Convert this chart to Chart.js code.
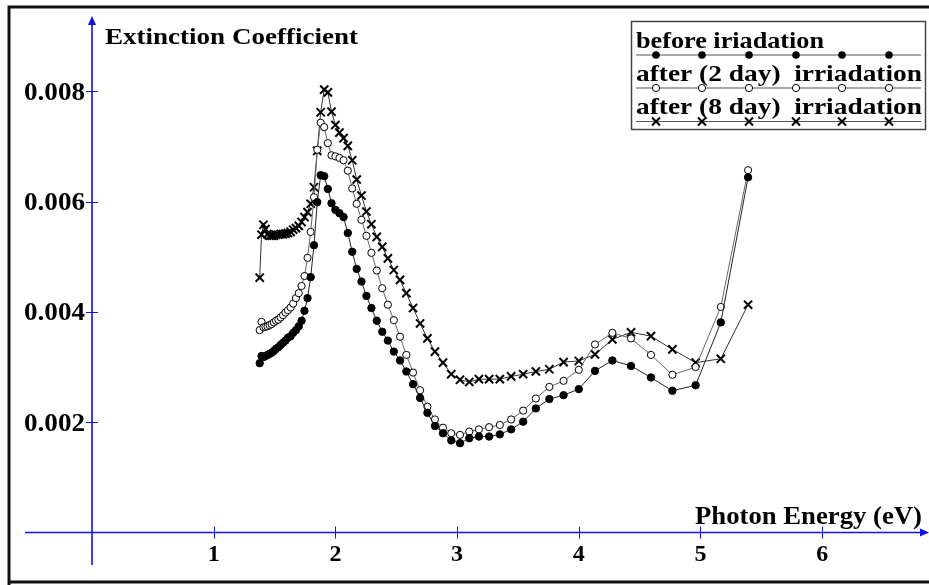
<!DOCTYPE html>
<html>
<head>
<meta charset="utf-8">
<script src="https://cdn.jsdelivr.net/npm/chart.js@4.4.1/dist/chart.umd.min.js"></script>
<style>
  html, body { margin: 0; padding: 0; background: #ffffff; }
  canvas { display: block; }
</style>
</head>
<body>
<canvas id="chart" width="929" height="585"></canvas>
<script>
// Photon energy (eV) of each measured point
const photonEnergy = [
  1.378, 1.393, 1.409, 1.425, 1.442, 1.459, 1.476, 1.494, 1.512, 1.531,
  1.550, 1.570, 1.590, 1.610, 1.632, 1.653, 1.676, 1.699, 1.722, 1.746,
  1.771, 1.797, 1.824, 1.851, 1.879, 1.908, 1.938, 1.968, 2.000, 2.033,
  2.067, 2.102, 2.138, 2.175, 2.214, 2.255, 2.296, 2.340, 2.385, 2.431,
  2.480, 2.531, 2.583, 2.638, 2.696, 2.756, 2.818, 2.884, 2.952, 3.024,
  3.100, 3.179, 3.263, 3.351, 3.444, 3.543, 3.647, 3.758, 3.875, 4.000,
  4.133, 4.276, 4.429, 4.593, 4.769, 4.960, 5.167, 5.391
];

// Extinction coefficient before irradiation
const beforeIrradiation = [
  0.00307, 0.00320, 0.00318, 0.00320, 0.00322, 0.00324, 0.00326, 0.00329, 0.00333, 0.00336,
  0.00340, 0.00344, 0.00348, 0.00353, 0.00356, 0.00362, 0.00367, 0.00374, 0.00384, 0.00402,
  0.00425, 0.00463, 0.00521, 0.00599, 0.00648, 0.00646, 0.00623, 0.00597, 0.00585, 0.00579,
  0.00572, 0.00543, 0.00509, 0.00478, 0.00455, 0.00429, 0.00407, 0.00384, 0.00364, 0.00348,
  0.00328, 0.00312, 0.00292, 0.00269, 0.00244, 0.00217, 0.00193, 0.00180, 0.00167, 0.00162,
  0.00171, 0.00174, 0.00174, 0.00178, 0.00187, 0.00201, 0.00225, 0.00242, 0.00249, 0.00260,
  0.00293, 0.00312, 0.00302, 0.00281, 0.00257, 0.00267, 0.00381, 0.00644
];

// Extinction coefficient after 2 days of irradiation
const after2Days = [
  0.00367, 0.00382, 0.00372, 0.00373, 0.00374, 0.00376, 0.00378, 0.00381, 0.00384, 0.00386,
  0.00390, 0.00394, 0.00399, 0.00403, 0.00408, 0.00415, 0.00425, 0.00434, 0.00447, 0.00465,
  0.00498, 0.00545, 0.00608, 0.00694, 0.00743, 0.00735, 0.00706, 0.00684, 0.00682, 0.00679,
  0.00675, 0.00656, 0.00624, 0.00596, 0.00567, 0.00538, 0.00507, 0.00475, 0.00443, 0.00413,
  0.00385, 0.00355, 0.00322, 0.00290, 0.00258, 0.00228, 0.00205, 0.00190, 0.00180, 0.00177,
  0.00183, 0.00187, 0.00191, 0.00195, 0.00205, 0.00221, 0.00243, 0.00264, 0.00275, 0.00295,
  0.00341, 0.00362, 0.00352, 0.00322, 0.00286, 0.00300, 0.00409, 0.00657
];

// Extinction coefficient after 8 days of irradiation
const after8Days = [
  0.00462, 0.00540, 0.00558, 0.00550, 0.00541, 0.00538, 0.00538, 0.00538, 0.00540, 0.00540,
  0.00541, 0.00541, 0.00542, 0.00543, 0.00545, 0.00549, 0.00552, 0.00556, 0.00563, 0.00572,
  0.00581, 0.00596, 0.00626, 0.00692, 0.00762, 0.00803, 0.00798, 0.00763, 0.00739, 0.00725,
  0.00715, 0.00701, 0.00675, 0.00640, 0.00611, 0.00582, 0.00559, 0.00536, 0.00518, 0.00497,
  0.00476, 0.00458, 0.00434, 0.00407, 0.00379, 0.00352, 0.00328, 0.00308, 0.00287, 0.00277,
  0.00273, 0.00278, 0.00278, 0.00278, 0.00283, 0.00287, 0.00292, 0.00296, 0.00309, 0.00311,
  0.00323, 0.00350, 0.00363, 0.00356, 0.00332, 0.00308, 0.00315, 0.00413
];

const seriesNames = ['before iriadation', 'after (2 day)  irriadation', 'after (8 day)  irriadation'];
const xTickValues = [1, 2, 3, 4, 5, 6];
const xTickLabels = ['1', '2', '3', '4', '5', '6'];
const yTickValues = [0.002, 0.004, 0.006, 0.008];
const yTickLabels = ['0.002', '0.004', '0.006', '0.008'];
const xAxisTitle = 'Photon Energy (eV)';
const yAxisTitle = 'Extinction Coefficient';

const toPoints = (ys) => photonEnergy.map((x, i) => ({ x: x, y: ys[i] }));

const SERIF = '"Liberation Serif", "Times New Roman", "DejaVu Serif", serif';
const AXIS_BLUE = '#1010f0';

// Draws text stretched horizontally so that it spans the given width
function drawFitted(ctx, text, x, y, width, font) {
  ctx.save();
  ctx.font = font;
  const w = ctx.measureText(text).width;
  ctx.translate(x, y);
  ctx.scale(width / w, 1);
  ctx.textAlign = 'left';
  ctx.textBaseline = 'alphabetic';
  ctx.fillText(text, 0, 0);
  ctx.restore();
}

function drawMarker(ctx, kind, x, y) {
  ctx.save();
  ctx.strokeStyle = '#000';
  if (kind === 'filled') {
    ctx.fillStyle = '#000';
    ctx.beginPath(); ctx.arc(x, y, 3.8, 0, Math.PI * 2); ctx.fill();
  } else if (kind === 'open') {
    ctx.fillStyle = '#fff';
    ctx.lineWidth = 1;
    ctx.beginPath(); ctx.arc(x, y, 3.6, 0, Math.PI * 2); ctx.fill(); ctx.stroke();
  } else {
    ctx.lineWidth = 2;
    const r = 4;
    ctx.beginPath();
    ctx.moveTo(x - r, y - r); ctx.lineTo(x + r, y + r);
    ctx.moveTo(x + r, y - r); ctx.lineTo(x - r, y + r);
    ctx.stroke();
  }
  ctx.restore();
}

// Frame, axes with arrows, ticks and axis titles
const axesPlugin = {
  id: 'crossAxes',
  beforeDatasetsDraw(chart) {
    const ctx = chart.ctx;
    const xs = chart.scales.x, ys = chart.scales.y;
    const x0 = xs.getPixelForValue(0);
    const y0 = ys.getPixelForValue(0);
    ctx.save();

    // outer frame
    ctx.strokeStyle = '#111';
    ctx.lineWidth = 3;
    ctx.beginPath();
    ctx.moveTo(9, 590); ctx.lineTo(9, 7); ctx.lineTo(935, 7);
    ctx.stroke();
    ctx.beginPath();
    ctx.moveTo(9, 582); ctx.lineTo(935, 582);
    ctx.stroke();

    // axes
    ctx.strokeStyle = AXIS_BLUE;
    ctx.fillStyle = AXIS_BLUE;
    ctx.lineWidth = 1.6;
    ctx.beginPath();
    ctx.moveTo(x0, 565); ctx.lineTo(x0, 20);
    ctx.moveTo(25, y0); ctx.lineTo(924, y0);
    ctx.stroke();
    ctx.beginPath();
    ctx.moveTo(x0, 16); ctx.lineTo(x0 - 4, 25); ctx.lineTo(x0 + 4, 25); ctx.closePath();
    ctx.fill();
    ctx.beginPath();
    ctx.moveTo(929, y0); ctx.lineTo(920, y0 - 4); ctx.lineTo(920, y0 + 4); ctx.closePath();
    ctx.fill();

    // ticks
    ctx.lineWidth = 1;
    ctx.beginPath();
    yTickValues.forEach(v => {
      const py = Math.round(ys.getPixelForValue(v)) + 0.5;
      ctx.moveTo(x0 - 6, py); ctx.lineTo(x0 + 6, py);
    });
    xTickValues.forEach(v => {
      const px = Math.round(xs.getPixelForValue(v)) + 0.5;
      ctx.moveTo(px, y0 - 6); ctx.lineTo(px, y0 + 6);
    });
    ctx.stroke();

    // tick labels
    ctx.fillStyle = '#000';
    ctx.font = 'bold 24px ' + SERIF;
    ctx.textAlign = 'center';
    ctx.textBaseline = 'alphabetic';
    xTickValues.forEach((v, i) => {
      ctx.fillText(xTickLabels[i], xs.getPixelForValue(v), 561);
    });
    yTickValues.forEach((v, i) => {
      const py = ys.getPixelForValue(v);
      drawFitted(ctx, yTickLabels[i], 24, py + 8.5, 61, 'bold 25px ' + SERIF);
    });

    // axis titles
    drawFitted(ctx, yAxisTitle, 105, 44, 253, 'bold 24px ' + SERIF);
    drawFitted(ctx, xAxisTitle, 695, 524, 227, 'bold 25px ' + SERIF);
    ctx.restore();
  },
  afterDraw(chart) {
    const ctx = chart.ctx;
    ctx.save();
    // legend box
    ctx.strokeStyle = '#444';
    ctx.lineWidth = 1.5;
    ctx.strokeRect(631.5, 21.5, 294, 108);
    const kinds = ['filled', 'open', 'cross'];
    const baselines = [47.5, 80.5, 113.5];
    const lineYs = [55, 88, 121.5];
    const widths = [188, 286, 286];
    const markerXs = [656, 702, 749, 796, 842, 889];
    ctx.fillStyle = '#000';
    kinds.forEach((k, i) => {
      drawFitted(ctx, seriesNames[i], 636, baselines[i], widths[i], 'bold 23px ' + SERIF);
      ctx.strokeStyle = '#555';
      ctx.lineWidth = 1.2;
      ctx.beginPath();
      ctx.moveTo(636, lineYs[i]); ctx.lineTo(921, lineYs[i]);
      ctx.stroke();
      markerXs.forEach(mx => drawMarker(ctx, k, mx, lineYs[i]));
    });
    ctx.restore();
  }
};

const ctx = document.getElementById('chart').getContext('2d');
new Chart(ctx, {
  type: 'scatter',
  data: {
    datasets: [
      {
        label: seriesNames[0],
        data: toPoints(beforeIrradiation),
        showLine: true,
        borderColor: '#222',
        borderWidth: 1,
        pointStyle: 'circle',
        pointRadius: 3.7,
        pointBackgroundColor: '#000',
        pointBorderColor: '#000',
        pointBorderWidth: 1
      },
      {
        label: seriesNames[1],
        data: toPoints(after2Days),
        showLine: true,
        borderColor: '#666',
        borderWidth: 1,
        pointStyle: 'circle',
        pointRadius: 3.6,
        pointBackgroundColor: '#fff',
        pointBorderColor: '#000',
        pointBorderWidth: 1
      },
      {
        label: seriesNames[2],
        data: toPoints(after8Days),
        showLine: true,
        borderColor: '#333',
        borderWidth: 1,
        pointStyle: 'crossRot',
        pointRadius: 5.8,
        pointBorderColor: '#000',
        pointBorderWidth: 2
      }
    ]
  },
  options: {
    responsive: false,
    animation: false,
    events: [],
    layout: { padding: 0, autoPadding: false },
    plugins: { legend: { display: false }, tooltip: { enabled: false } },
    scales: {
      x: { type: 'linear', min: -0.75596, max: 6.8776, display: false },
      y: { type: 'linear', min: -0.000952, max: 0.0096555, display: false }
    }
  },
  plugins: [axesPlugin]
});
</script>
</body>
</html>
